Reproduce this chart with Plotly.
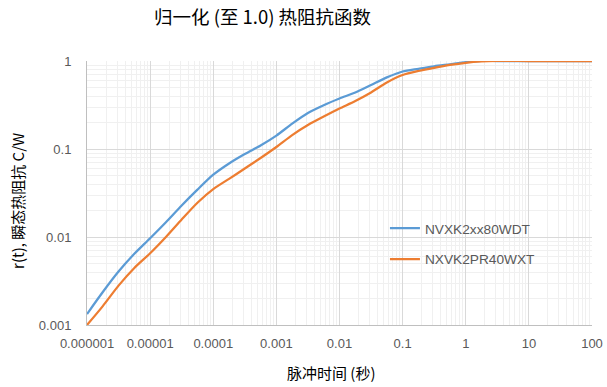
import plotly.graph_objects as go

# Data (samples every quarter decade of pulse time)
time_s = [1e-6, 1.78e-6, 3.16e-6, 5.62e-6,
          1e-5, 1.78e-5, 3.16e-5, 5.62e-5,
          1e-4, 1.78e-4, 3.16e-4, 5.62e-4,
          1e-3, 1.78e-3, 3.16e-3, 5.62e-3,
          1e-2, 1.78e-2, 3.16e-2, 5.62e-2,
          0.1, 0.178, 0.316, 0.562,
          1.0, 1.78, 3.16, 10.0, 100.0]

blue_name = "NVXK2xx80WDT"
blue_y = [0.00133, 0.00237, 0.00405, 0.00644,
          0.00967, 0.0147, 0.0228, 0.0345,
          0.0510, 0.0685, 0.0877, 0.1096,
          0.1420, 0.194, 0.2565, 0.3146,
          0.375, 0.4385, 0.534, 0.651,
          0.760, 0.815, 0.871, 0.918,
          0.969, 1.0, 1.0, 1.0, 1.0]

orange_name = "NXVK2PR40WXT"
orange_y = [0.001, 0.00164, 0.00280, 0.00445,
            0.00653, 0.0100, 0.0158, 0.0245,
            0.0350, 0.0458, 0.060, 0.079,
            0.1054, 0.144, 0.1874, 0.234,
            0.2885, 0.351, 0.4385, 0.570,
            0.693, 0.770, 0.837, 0.901,
            0.954, 0.987, 1.0, 1.0, 1.0]

x_tickvals = [1e-6, 1e-5, 1e-4, 1e-3, 1e-2, 0.1, 1, 10, 100]
x_ticktext = ["0.000001", "0.00001", "0.0001", "0.001", "0.01", "0.1", "1", "10", "100"]
y_tickvals = [0.001, 0.01, 0.1, 1]
y_ticktext = ["0.001", "0.01", "0.1", "1"]

title_text = "归一化 (至 1.0) 热阻抗函数"
x_title = "脉冲时间 (秒)"
y_title = "r(t), 瞬态热阻抗 C/W"

FONT = "Liberation Sans, Noto Sans CJK SC, sans-serif"
CJK = "Noto Sans CJK SC, sans-serif"

fig = go.Figure()
fig.add_trace(go.Scatter(x=time_s, y=blue_y, mode="lines", name=blue_name,
                         line=dict(color="#5B9BD5", width=2.25, shape="spline", smoothing=0.7),
                         legendgroup="a"))
fig.add_trace(go.Scatter(x=time_s, y=orange_y, mode="lines", name=orange_name,
                         line=dict(color="#ED7D31", width=2.25, shape="spline", smoothing=0.7),
                         legendgroup="b"))

fig.update_layout(
    width=607, height=387,
    margin=dict(l=86.5, r=15, t=61, b=62, autoexpand=False),
    paper_bgcolor="white", plot_bgcolor="white",
    font=dict(family=FONT, size=13, color="#595959"),
    showlegend=True,
    legend=dict(x=0.590, y=0.425, xanchor="left", yanchor="top",
                bgcolor="rgba(0,0,0,0)", font=dict(size=13.7, color="#595959"),
                traceorder="grouped", tracegroupgap=10),
    annotations=[
        dict(text=title_text, xref="paper", yref="paper", x=0.348, y=1.0, yshift=45,
             xanchor="center", yanchor="middle", showarrow=False,
             font=dict(family=CJK, size=18.5, color="#000000")),
        dict(text=x_title, xref="paper", yref="paper", x=0.484, y=0, yshift=-47,
             xanchor="center", yanchor="middle", showarrow=False,
             font=dict(family=CJK, size=15, color="#000000")),
        dict(text=y_title, xref="paper", yref="paper", x=0, xshift=-69, y=0.47,
             xanchor="center", yanchor="middle", showarrow=False, textangle=-90,
             font=dict(family=CJK, size=15, color="#000000")),
    ],
)

fig.update_xaxes(type="log", range=[-6, 2], tickvals=x_tickvals, ticktext=x_ticktext,
                 showgrid=True, gridcolor="#d9d9d9", gridwidth=1,
                 minor=dict(showgrid=True, gridcolor="#f0f0f0", gridwidth=1, dtick="D1"),
                 showline=True, linecolor="#bfbfbf", linewidth=1, mirror=False,
                 ticks="", zeroline=False, ticklabelstandoff=6, automargin=False)
fig.update_yaxes(type="log", range=[-3, 0], tickvals=y_tickvals, ticktext=y_ticktext,
                 showgrid=True, gridcolor="#d9d9d9", gridwidth=1,
                 minor=dict(showgrid=True, gridcolor="#f0f0f0", gridwidth=1, dtick="D1"),
                 showline=True, linecolor="#bfbfbf", linewidth=1,
                 ticks="", zeroline=False, ticklabelstandoff=12, automargin=False)

# remove the default 8px page margin so the 607x387 figure fills the window exactly
fig.write_html("out.html", config={"displayModeBar": False},
               post_script="document.body.style.margin='0';document.body.style.overflow='hidden';")
